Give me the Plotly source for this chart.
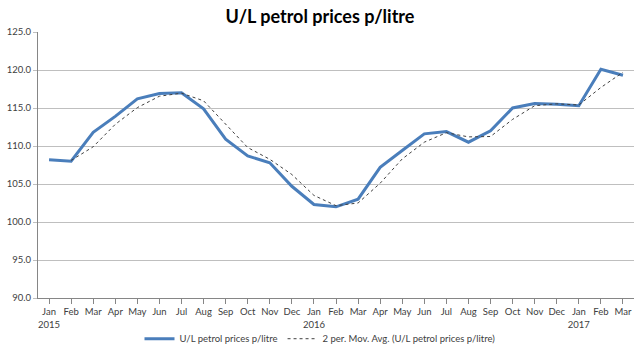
import plotly.graph_objects as go

months = ["Jan", "Feb", "Mar", "Apr", "May", "Jun", "Jul", "Aug", "Sep", "Oct", "Nov", "Dec",
          "Jan", "Feb", "Mar", "Apr", "May", "Jun", "Jul", "Aug", "Sep", "Oct", "Nov", "Dec",
          "Jan", "Feb", "Mar"]
years = ["2015", "", "", "", "", "", "", "", "", "", "", "",
         "2016", "", "", "", "", "", "", "", "", "", "", "",
         "2017", "", ""]
prices = [108.2, 108.0, 111.8, 113.9, 116.2, 116.9, 117.0, 114.9, 110.9, 108.7, 107.8, 104.7,
          102.3, 102.0, 103.0, 107.2, 109.4, 111.6, 111.9, 110.5, 112.0, 115.0, 115.6, 115.5,
          115.3, 120.1, 119.3]
mov_avg = [None, 108.1, 109.9, 112.85, 115.05, 116.55, 116.95, 115.95, 112.9, 109.8, 108.25, 106.25,
           103.5, 102.15, 102.5, 105.1, 108.3, 110.5, 111.75, 111.2, 111.25, 113.5, 115.3, 115.55,
           115.4, 117.7, 119.7]
y_ticks = [90, 95, 100, 105, 110, 115, 120, 125]

x_ids = list(range(len(months)))
tick_text = [m + ("<br>" + y if y else "<br> ") for m, y in zip(months, years)]

fig = go.Figure()
fig.add_trace(go.Scatter(x=x_ids, y=prices, mode="lines", name="U/L petrol prices p/litre",
                         line=dict(color="#4A7EBB", width=3)))
fig.add_trace(go.Scatter(x=x_ids, y=mov_avg, mode="lines",
                         name="2 per. Mov. Avg. (U/L petrol prices p/litre)",
                         line=dict(color="#404040", width=1, dash="dot")))

fig.update_layout(
    width=640, height=351,
    margin=dict(l=38, r=6, t=32, b=53, autoexpand=False),
    paper_bgcolor="white", plot_bgcolor="white",
    font=dict(family="Lato, Open Sans, sans-serif", size=10, color="#404040"),
    title=dict(text="<b>U/L petrol prices p/litre</b>", x=0.5, xanchor="center",
               y=0.952, yanchor="middle", font=dict(size=18, color="#000000")),
    showlegend=True,
    legend=dict(orientation="h", xref="container", x=0.5, xanchor="center",
                yref="container", y=0.035, yanchor="middle", bgcolor="rgba(0,0,0,0)",
                font=dict(size=9.5, color="#404040"), itemwidth=30, traceorder="normal"),
)
fig.update_xaxes(
    tickmode="array", tickvals=x_ids, ticktext=tick_text,
    range=[-0.5, len(months) - 0.5], tickangle=0, automargin=False,
    showline=True, linecolor="#868686", linewidth=1,
    ticks="outside", tickson="boundaries", ticklen=5, tickcolor="#868686",
    showgrid=False, zeroline=False, tickfont=dict(size=9.5),
)
fig.update_yaxes(
    range=[90, 125], tickvals=y_ticks, tickformat=".1f", automargin=False,
    showline=True, linecolor="#868686", linewidth=1,
    showgrid=True, gridcolor="#BFBFBF", gridwidth=1, zeroline=False,
    ticks="outside", ticklen=4, tickcolor="#BFBFBF", tickfont=dict(size=9.5),
)
fig.write_html("out.html")
